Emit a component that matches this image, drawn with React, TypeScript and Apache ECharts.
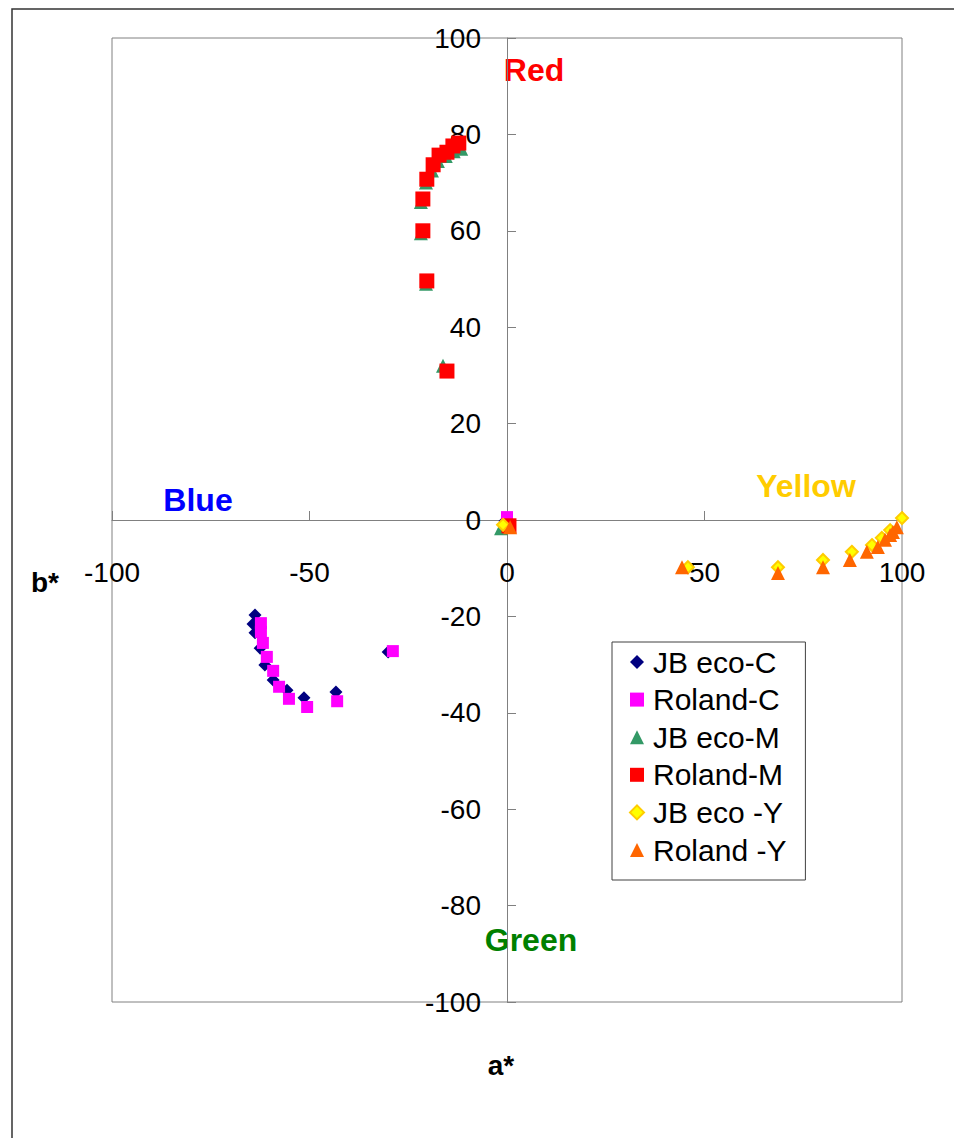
import React, { useEffect, useRef } from "react";
import * as echarts from "echarts";

// Series data: [a*, b*]
const jbEcoC: number[][] = [
  [-63.8, -19.7], [-64.3, -21.6], [-63.8, -23.4], [-62.5, -26.6], [-61.3, -30.1],
  [-59.2, -33.2], [-55.7, -35.3], [-51.4, -36.9], [-43.3, -35.7], [-30.1, -27.4], [-0.5, -0.2],
];
const rolandC: number[][] = [
  [-62.3, -21.4], [-62.3, -23.2], [-61.8, -25.5], [-60.8, -28.4], [-59.2, -31.3],
  [-57.7, -34.6], [-55.2, -37.1], [-50.6, -38.8], [-43.0, -37.6], [-28.9, -27.2], [0.0, 0.6],
];
const jbEcoM: number[][] = [
  [-11.6, 77.0], [-13.5, 76.5], [-15.5, 75.5], [-17.5, 74.5], [-19.0, 72.5],
  [-20.5, 70.0], [-21.8, 66.0], [-21.8, 59.5], [-20.5, 49.0], [-16.2, 32.0], [-1.5, -1.7],
];
const rolandM: number[][] = [
  [-12.2, 78.2], [-13.7, 77.6], [-15.2, 76.3], [-17.2, 75.7], [-18.7, 73.7],
  [-20.3, 70.7], [-21.3, 66.6], [-21.3, 60.0], [-20.3, 49.6], [-15.2, 30.9], [0.5, -1.2],
];
const jbEcoY: number[][] = [
  [45.8, -9.8], [68.6, -9.8], [80.0, -8.3], [87.3, -6.6], [92.4, -5.2],
  [94.9, -3.7], [97.0, -2.1], [100.0, 0.4], [-1.0, -1.0],
];
const rolandY: number[][] = [
  [44.3, -9.8], [68.6, -11.0], [80.0, -9.8], [86.8, -8.3], [91.1, -6.6],
  [93.9, -5.6], [95.7, -4.1], [97.0, -3.1], [97.7, -2.5], [98.7, -1.5], [0.8, -1.5],
];

const seriesNames = ["JB eco-C", "Roland-C", "JB eco-M", "Roland-M", "JB eco -Y", "Roland -Y"];
const xRange = [-100, 100];
const yRange = [-100, 100];
const xStep = 50;
const yStep = 20;

const FONT = "'Liberation Sans', Arial, Helvetica, sans-serif";

const GRID = { left: 112, top: 38, width: 790, height: 964 };

export default function App() {
  const ref = useRef<HTMLDivElement>(null);
  useEffect(() => {
    if (!ref.current) return;
    const chart = echarts.init(ref.current, undefined, { renderer: "svg" });
    // distance from grid edge to zero line (axes cross at origin)
    const zeroY = GRID.height * (yRange[1] / (yRange[1] - yRange[0]));
    const zeroX = GRID.width * (-xRange[0] / (xRange[1] - xRange[0]));
    const axisCommon = {
      type: "value" as const,
      splitLine: { show: false },
      axisLine: { onZero: false, lineStyle: { color: "#808080", width: 1 } },
      axisTick: { inside: true, length: 9, lineStyle: { color: "#808080", width: 1 } },
    };
    const labelCommon = {
      fontSize: 28,
      color: "#000",
      fontFamily: FONT,
      showMinLabel: true,
      showMaxLabel: true,
      hideOverlap: false,
    };
    const mk = (name: string, data: number[][], symbol: string, size: number, itemStyle: any) => ({
      type: "scatter",
      name,
      data,
      symbol,
      symbolSize: size,
      itemStyle: { opacity: 1, ...itemStyle },
      emphasis: { disabled: true },
    });
    chart.setOption({
      animation: false,
      backgroundColor: "#fff",
      grid: {
        ...GRID,
        show: true,
        borderColor: "#808080",
        borderWidth: 1,
        backgroundColor: "transparent",
      },
      xAxis: {
        ...axisCommon,
        min: xRange[0],
        max: xRange[1],
        interval: xStep,
        offset: -(GRID.height - zeroY),
        axisLabel: { ...labelCommon, margin: 38 },
      },
      yAxis: {
        ...axisCommon,
        min: yRange[0],
        max: yRange[1],
        interval: yStep,
        offset: -zeroX,
        axisLabel: { ...labelCommon, margin: 26 },
      },
      legend: {
        orient: "vertical",
        left: 612,
        top: 642,
        padding: [5, 19, 15, 17],
        itemGap: 7.6,
        itemWidth: 14,
        itemHeight: 14,
        borderColor: "#404040",
        borderWidth: 1,
        backgroundColor: "#fff",
        selectedMode: false,
        textStyle: { fontSize: 30, fontFamily: FONT, color: "#000", lineHeight: 30, padding: [0, 0, 0, 4] },
        data: [
          { name: seriesNames[0], icon: "diamond" },
          { name: seriesNames[1], icon: "rect" },
          { name: seriesNames[2], icon: "triangle" },
          { name: seriesNames[3], icon: "rect" },
          { name: seriesNames[4], icon: "diamond" },
          { name: seriesNames[5], icon: "triangle" },
        ],
      },
      series: [
        mk(seriesNames[0], jbEcoC, "diamond", 13, { color: "#000080" }),
        mk(seriesNames[1], rolandC, "rect", 12, { color: "#FF00FF" }),
        mk(seriesNames[2], jbEcoM, "triangle", 14, { color: "#339966" }),
        mk(seriesNames[3], rolandM, "rect", 15, { color: "#FF0000" }),
        mk(seriesNames[4], jbEcoY, "diamond", 12, { color: "#FFFF00", borderColor: "#FFCC00", borderWidth: 2 }),
        mk(seriesNames[5], rolandY, "triangle", 14, { color: "#FF6600" }),
      ],
      graphic: [
        {
          type: "rect",
          z: -10,
          shape: { x: 12, y: 9, width: 1000, height: 1200 },
          style: { fill: "none", stroke: "#333", lineWidth: 1.5 },
        },
        {
          type: "text", x: 534, y: 70,
          style: { text: "Red", fill: "#FF0000", font: `bold 32px ${FONT}`, align: "center", verticalAlign: "middle" },
        },
        {
          type: "text", x: 198, y: 500,
          style: { text: "Blue", fill: "#0000FF", font: `bold 32px ${FONT}`, align: "center", verticalAlign: "middle" },
        },
        {
          type: "text", x: 806, y: 486,
          style: { text: "Yellow", fill: "#FFCC00", font: `bold 32px ${FONT}`, align: "center", verticalAlign: "middle" },
        },
        {
          type: "text", x: 531, y: 940,
          style: { text: "Green", fill: "#008000", font: `bold 32px ${FONT}`, align: "center", verticalAlign: "middle" },
        },
        {
          type: "text", x: 45, y: 582,
          style: { text: "b*", fill: "#000", font: `bold 28px ${FONT}`, align: "center", verticalAlign: "middle" },
        },
        {
          type: "text", x: 501, y: 1065,
          style: { text: "a*", fill: "#000", font: `bold 28px ${FONT}`, align: "center", verticalAlign: "middle" },
        },
      ],
    });
    return () => chart.dispose();
  }, []);
  return (
    <div
      ref={ref}
      style={{ position: "absolute", left: 0, top: 0, width: 954, height: 1138, background: "#fff" }}
    />
  );
}
